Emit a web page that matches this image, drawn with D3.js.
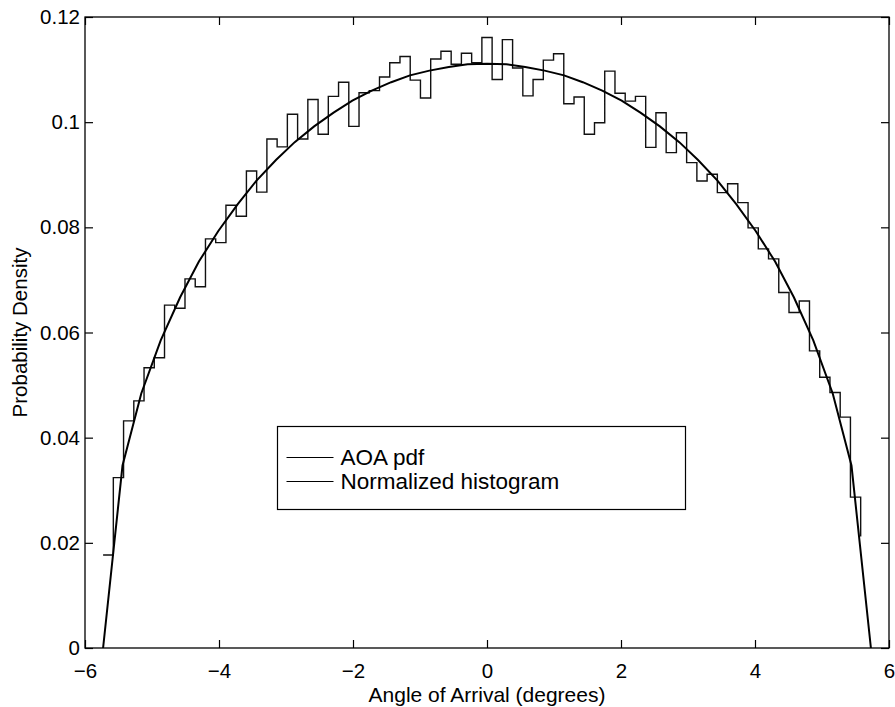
<!DOCTYPE html>
<html>
<head>
<meta charset="utf-8">
<script src="https://cdn.jsdelivr.net/npm/d3@7"></script>
<style>
  body { margin: 0; background: #fff; }
  svg { display: block; font-family: "Liberation Sans", Arial, Helvetica, sans-serif; }
</style>
</head>
<body>
<div id="chart"></div>
<script>
// normalized histogram, 75 equal bins starting at the left edge of the support
const binStart = -5.73;
const binWidth = 0.1528;
const histDensity = [
  0.0177, 0.0324, 0.0432, 0.0470, 0.0533, 0.0552, 0.0652, 0.0646, 0.0702, 0.0687,
  0.0778, 0.0771, 0.0842, 0.0821, 0.0907, 0.0867, 0.0968, 0.0953, 0.1015, 0.0968,
  0.1043, 0.0977, 0.1049, 0.1076, 0.0992, 0.1056, 0.1060, 0.1086, 0.1113, 0.1125,
  0.1080, 0.1046, 0.1120, 0.1135, 0.1110, 0.1131, 0.1113, 0.1161, 0.1081, 0.1157,
  0.1103, 0.1050, 0.1081, 0.1118, 0.1130, 0.1035, 0.1048, 0.0977, 0.0999, 0.1097,
  0.1055, 0.1040, 0.1049, 0.0952, 0.1018, 0.0942, 0.0980, 0.0923, 0.0888, 0.0901,
  0.0866, 0.0883, 0.0847, 0.0799, 0.0759, 0.0740, 0.0676, 0.0638, 0.0660, 0.0565,
  0.0515, 0.0486, 0.0439, 0.0287, 0.0212
];

// AOA pdf
const pdfAngle = [
  -5.73, -5.44, -5.16, -4.87, -4.58, -4.30, -4.01, -3.72, -3.44, -3.15, -2.87,
  -2.58, -2.29, -2.01, -1.72, -1.43, -1.15, -0.86, -0.57, -0.29, 0,
  0.29, 0.57, 0.86, 1.15, 1.43, 1.72, 2.01, 2.29, 2.58, 2.87,
  3.15, 3.44, 3.72, 4.01, 4.30, 4.58, 4.87, 5.16, 5.44, 5.73
];
const pdfValue = [
  0, 0.0347, 0.0484, 0.0585, 0.0667, 0.0735, 0.0793, 0.0844, 0.0889, 0.0928, 0.0962,
  0.0992, 0.1018, 0.1041, 0.1060, 0.1076, 0.1089, 0.1098, 0.1105, 0.1110, 0.1111,
  0.1110, 0.1105, 0.1098, 0.1089, 0.1076, 0.1060, 0.1041, 0.1018, 0.0992, 0.0962,
  0.0928, 0.0889, 0.0844, 0.0793, 0.0735, 0.0667, 0.0585, 0.0484, 0.0347, 0
];

const xTicks = [-6, -4, -2, 0, 2, 4, 6];
const yTicks = [0, 0.02, 0.04, 0.06, 0.08, 0.1, 0.12];
const legendLabels = ["AOA pdf", "Normalized histogram"];
const xLabel = "Angle of Arrival (degrees)";
const yLabel = "Probability Density";

const width = 895,
  height = 707;
const plot = { left: 85, right: 889, top: 17, bottom: 648 };

const svg = d3
  .select("#chart")
  .append("svg")
  .attr("width", width)
  .attr("height", height);

const x = d3.scaleLinear().domain([-6, 6]).range([plot.left, plot.right]);
const y = d3.scaleLinear().domain([0, 0.12]).range([plot.bottom, plot.top]);

const fmtY = d3.format("~f");
const tickLen = 8;

// axes: ticks point inward, mirrored on top and right
svg
  .append("g")
  .attr("transform", `translate(0,${plot.bottom})`)
  .call(d3.axisBottom(x).tickValues(xTicks).tickSize(-tickLen).tickPadding(15))
  .call((g) => g.select(".domain").remove());

svg
  .append("g")
  .attr("transform", `translate(0,${plot.top})`)
  .call(d3.axisTop(x).tickValues(xTicks).tickSize(-tickLen).tickFormat(""))
  .call((g) => g.select(".domain").remove());

svg
  .append("g")
  .attr("transform", `translate(${plot.left},0)`)
  .call(d3.axisLeft(y).tickValues(yTicks).tickSize(-tickLen).tickPadding(5).tickFormat(fmtY))
  .call((g) => g.select(".domain").remove());

svg
  .append("g")
  .attr("transform", `translate(${plot.right},0)`)
  .call(d3.axisRight(y).tickValues(yTicks).tickSize(-tickLen).tickFormat(""))
  .call((g) => g.select(".domain").remove());

svg
  .selectAll(".tick text")
  .attr("fill", "#000")
  .attr("font-size", 20.5)
  .attr("font-family", '"Liberation Sans", Arial, sans-serif');
svg.selectAll(".tick line").attr("stroke", "#000").attr("stroke-width", 1.2);

// box around the plot
svg
  .append("rect")
  .attr("x", plot.left)
  .attr("y", plot.top)
  .attr("width", plot.right - plot.left)
  .attr("height", plot.bottom - plot.top)
  .attr("fill", "none")
  .attr("stroke", "#000")
  .attr("stroke-width", 1.3);

// histogram drawn as stairs (last value is only reached, not extended)
const histPts = histDensity.map((v, i) => [binStart + i * binWidth, v]);
const stairs = d3
  .line()
  .x((d) => x(d[0]))
  .y((d) => y(d[1]))
  .curve(d3.curveStepAfter);

svg
  .append("path")
  .datum(histPts)
  .attr("d", stairs)
  .attr("fill", "none")
  .attr("stroke", "#111")
  .attr("stroke-width", 1.4);

// pdf curve
const pdfLine = d3
  .line()
  .x((d, i) => x(pdfAngle[i]))
  .y((d) => y(d));

svg
  .append("path")
  .datum(pdfValue)
  .attr("d", pdfLine)
  .attr("fill", "none")
  .attr("stroke", "#000")
  .attr("stroke-width", 2);

// axis titles
svg
  .append("text")
  .attr("x", (plot.left + plot.right) / 2)
  .attr("y", 702)
  .attr("text-anchor", "middle")
  .attr("font-size", 21)
  .text(xLabel);

svg
  .append("text")
  .attr("transform", `translate(27,${(plot.top + plot.bottom) / 2}) rotate(-90)`)
  .attr("text-anchor", "middle")
  .attr("font-size", 20.5)
  .text(yLabel);

// legend
const legend = svg.append("g").attr("transform", "translate(277.5,426.5)");
legend
  .append("rect")
  .attr("width", 408)
  .attr("height", 83)
  .attr("fill", "#fff")
  .attr("stroke", "#000")
  .attr("stroke-width", 1.2);

const rows = legend
  .selectAll("g.row")
  .data(legendLabels)
  .join("g")
  .attr("class", "row")
  .attr("transform", (d, i) => `translate(0,${31 + i * 24})`);

rows
  .append("line")
  .attr("x1", 9)
  .attr("x2", 56)
  .attr("stroke", "#000")
  .attr("stroke-width", 1);

rows
  .append("text")
  .attr("x", 63)
  .attr("y", 7.5)
  .attr("font-size", 22.5)
  .text((d) => d);
</script>
</body>
</html>
